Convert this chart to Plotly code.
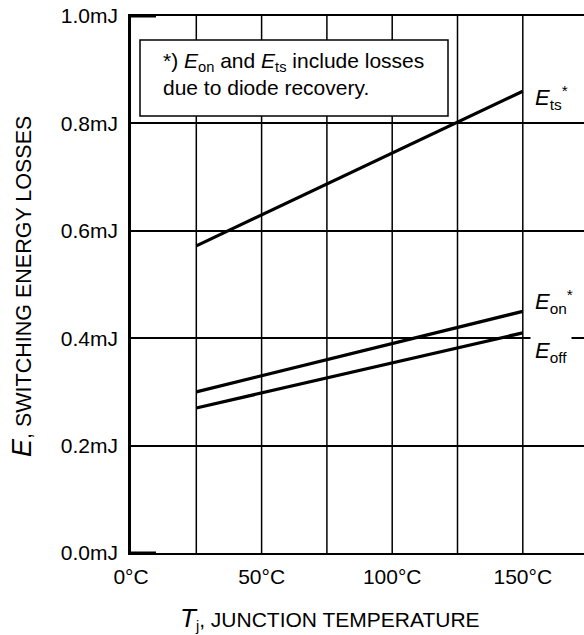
import plotly.graph_objects as go

temps = [25, 150]
e_ts = [0.572, 0.86]
e_on = [0.30, 0.45]
e_off = [0.27, 0.41]

x_ticks = [0, 50, 100, 150]
x_ticktext = ["0°C", "50°C", "100°C", "150°C"]
x_grid = [0, 25, 50, 75, 100, 125, 150]
y_ticks = [0.0, 0.2, 0.4, 0.6, 0.8, 1.0]
y_ticktext = ["0.0mJ", "0.2mJ", "0.4mJ", "0.6mJ", "0.8mJ", "1.0mJ"]

FONT = "Liberation Sans, Arial, sans-serif"
W, H = 584, 635
L, T, B = 131, 16, 82
PW = W - L
PH = H - T - B
XMAX = 25 * PW / 65.3

def px(xp):
    return (xp - L) / PW

def py(yp):
    return (H - B - yp) / PH

fig = go.Figure()
for ys in (e_ts, e_on, e_off):
    fig.add_trace(go.Scatter(x=temps, y=ys, mode="lines",
                             line=dict(color="black", width=3.2),
                             hoverinfo="skip", showlegend=False))

fig.update_xaxes(range=[0, XMAX], tickvals=x_ticks, ticktext=x_ticktext,
                 showgrid=False, zeroline=False,
                 showline=True, linecolor="black", linewidth=1.5, mirror=True,
                 ticks="", ticklabelstandoff=4,
                 tickfont=dict(family=FONT, size=21, color="black"))
fig.update_yaxes(range=[0, 1.0], tickvals=y_ticks, ticktext=y_ticktext,
                 showgrid=True, gridcolor="black", gridwidth=1.5,
                 zeroline=False, showline=True, linecolor="black", linewidth=2.5,
                 ticks="", ticklabelstandoff=6,
                 tickfont=dict(family=FONT, size=21, color="black"))

shapes = []
for g in x_grid[1:]:
    shapes.append(dict(type="line", xref="x", yref="paper", x0=g, x1=g, y0=0, y1=1,
                       line=dict(color="black", width=1.5), layer="below"))
shapes.append(dict(type="line", xref="paper", yref="paper", x0=0, x1=px(156), y0=1, y1=1,
                   line=dict(color="black", width=3)))
shapes.append(dict(type="line", xref="paper", yref="paper", x0=0, x1=px(156), y0=0, y1=0,
                   line=dict(color="black", width=3)))
# note box
shapes.append(dict(type="rect", xref="paper", yref="paper", x0=px(140), x1=px(448),
                   y0=py(116), y1=py(40), fillcolor="white",
                   line=dict(color="black", width=1.5), layer="above"))

annotations = [
    dict(xref="paper", yref="paper", x=px(161), y=py(74), xanchor="left", yanchor="middle",
         text="*) <i>E</i><sub>on</sub> and <i>E</i><sub>ts</sub> include losses<br>due to diode recovery.",
         showarrow=False, align="left",
         font=dict(family=FONT, size=21, color="black")),
    dict(xref="paper", yref="paper", x=px(533), y=py(97), xanchor="left", yanchor="middle",
         text="<i>E</i><sub>ts</sub><sup>*</sup>", showarrow=False,
         font=dict(family=FONT, size=22, color="black")),
    dict(xref="paper", yref="paper", x=px(533), y=py(301), xanchor="left", yanchor="middle",
         text="<i>E</i><sub>on</sub><sup>*</sup>", showarrow=False,
         font=dict(family=FONT, size=22, color="black")),
    dict(xref="paper", yref="paper", x=px(530), y=py(352), xanchor="left", yanchor="middle",
         text="<i>E</i><sub>off</sub>", showarrow=False, bgcolor="white", borderpad=4,
         font=dict(family=FONT, size=22, color="black")),
    dict(xref="paper", yref="paper", x=px(330), y=py(618), xanchor="center", yanchor="middle",
         text="<i><span style='font-size:26px'>T</span></i><sub>j</sub>, JUNCTION TEMPERATURE",
         showarrow=False, font=dict(family=FONT, size=21, color="black")),
    dict(xref="paper", yref="paper", x=px(22), y=py(287), xanchor="center", yanchor="middle",
         text="<i><span style='font-size:27px'>E</span></i>, SWITCHING ENERGY LOSSES",
         textangle=-90, showarrow=False, font=dict(family=FONT, size=21.5, color="black")),
]

fig.update_layout(width=W, height=H, margin=dict(l=L, r=0, t=T, b=B),
                  paper_bgcolor="white", plot_bgcolor="white",
                  shapes=shapes, annotations=annotations, hovermode=False)

fig.write_html("out.html", config={"displayModeBar": False},
               post_script="document.body.style.margin='0';document.body.style.overflow='hidden';")
